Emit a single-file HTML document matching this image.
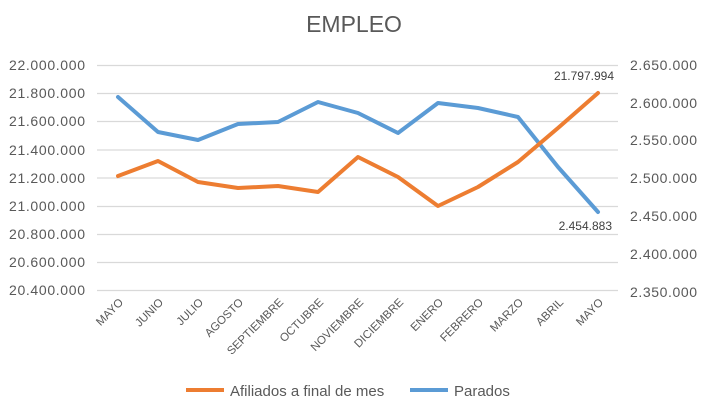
<!DOCTYPE html>
<html><head><meta charset="utf-8"><style>body{margin:0;background:#fff}svg{display:block}</style></head><body>
<svg width="708" height="409" xmlns="http://www.w3.org/2000/svg" font-family="Liberation Sans, sans-serif">
<text x="354" y="32" text-anchor="middle" font-size="23" fill="#595959">EMPLEO</text>
<g stroke="#d9d9d9" stroke-width="1.3">
<line x1="97" x2="618" y1="65.5" y2="65.5"/><line x1="97" x2="618" y1="93.5" y2="93.5"/><line x1="97" x2="618" y1="121.5" y2="121.5"/><line x1="97" x2="618" y1="150" y2="150"/><line x1="97" x2="618" y1="178" y2="178"/><line x1="97" x2="618" y1="206.5" y2="206.5"/><line x1="97" x2="618" y1="234.5" y2="234.5"/><line x1="97" x2="618" y1="262.5" y2="262.5"/><line x1="97" x2="618" y1="290.5" y2="290.5"/>
</g>
<g font-size="14" fill="#595959" text-anchor="end" textLength="76">
<text x="85" y="70" textLength="76">22.000.000</text><text x="85" y="98" textLength="76">21.800.000</text><text x="85" y="126" textLength="76">21.600.000</text><text x="85" y="155" textLength="76">21.400.000</text><text x="85" y="183" textLength="76">21.200.000</text><text x="85" y="211" textLength="76">21.000.000</text><text x="85" y="239" textLength="76">20.800.000</text><text x="85" y="267" textLength="76">20.600.000</text><text x="85" y="295" textLength="76">20.400.000</text>
</g>
<g font-size="14" fill="#595959" text-anchor="end">
<text x="697" y="70" textLength="67">2.650.000</text><text x="697" y="108" textLength="67">2.600.000</text><text x="697" y="145" textLength="67">2.550.000</text><text x="697" y="183" textLength="67">2.500.000</text><text x="697" y="221" textLength="67">2.450.000</text><text x="697" y="259" textLength="67">2.400.000</text><text x="697" y="297" textLength="67">2.350.000</text>
</g>
<g font-size="11.5" fill="#595959" text-anchor="end">
<text transform="translate(124,303) rotate(-45)">MAYO</text>
<text transform="translate(164,303) rotate(-45)">JUNIO</text>
<text transform="translate(204,303) rotate(-45)">JULIO</text>
<text transform="translate(244,303) rotate(-45)">AGOSTO</text>
<text transform="translate(284,303) rotate(-45)">SEPTIEMBRE</text>
<text transform="translate(324,303) rotate(-45)">OCTUBRE</text>
<text transform="translate(364,303) rotate(-45)">NOVIEMBRE</text>
<text transform="translate(404,303) rotate(-45)">DICIEMBRE</text>
<text transform="translate(444,303) rotate(-45)">ENERO</text>
<text transform="translate(484,303) rotate(-45)">FEBRERO</text>
<text transform="translate(524,303) rotate(-45)">MARZO</text>
<text transform="translate(564,303) rotate(-45)">ABRIL</text>
<text transform="translate(604,303) rotate(-45)">MAYO</text>
</g>
<polyline fill="none" stroke="#5b9bd5" stroke-width="4" stroke-linejoin="round" stroke-linecap="round" points="118,97 158,132 198,140 238,124 278,122 318,102 358,113 398,133 438,103 478,108 518,117 558,167 598,212"/>
<polyline fill="none" stroke="#ed7d31" stroke-width="4" stroke-linejoin="round" stroke-linecap="round" points="118,176 158,161 198,182 238,188 278,186 318,192 358,157 398,177 438,206 478,187 518,162 558,128 598,93"/>
<text x="614" y="80" font-size="12" fill="#404040" text-anchor="end">21.797.994</text>
<text x="612" y="230" font-size="12" fill="#404040" text-anchor="end">2.454.883</text>
<line x1="186" x2="224" y1="390" y2="390" stroke="#ed7d31" stroke-width="4"/>
<text x="230" y="396" font-size="15" fill="#595959">Afiliados a final de mes</text>
<line x1="410" x2="448" y1="390" y2="390" stroke="#5b9bd5" stroke-width="4"/>
<text x="454" y="396" font-size="15" fill="#595959">Parados</text>
</svg>
</body></html>
